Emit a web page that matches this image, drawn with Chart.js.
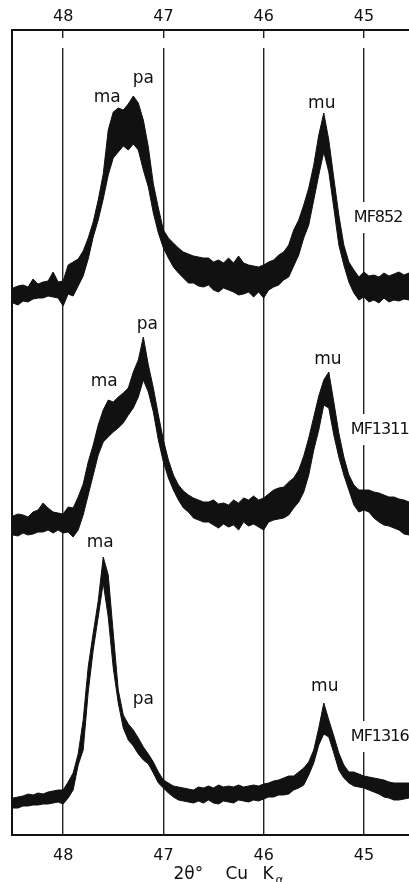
<!DOCTYPE html>
<html>
<head>
<meta charset="utf-8">
<title>XRD 2θ Cu Kα</title>
<script src="https://cdn.jsdelivr.net/npm/chart.js@4.4.1/dist/chart.umd.min.js"></script>
<style>
  html, body { margin: 0; padding: 0; background: #fff; }
  canvas { display: block; }
</style>
</head>
<body>
<canvas id="xrdChart" width="409" height="882"></canvas>
<script>
// 2-theta sampling positions (degrees, Cu K-alpha)
const twoTheta = [
    48.50, 48.45, 48.40, 48.35, 48.30, 48.25, 48.20, 48.15, 48.10, 48.05,
    48.00, 47.95, 47.90, 47.85, 47.80, 47.75, 47.70, 47.65, 47.60, 47.55,
    47.50, 47.45, 47.40, 47.35, 47.30, 47.25, 47.20, 47.15, 47.10, 47.05,
    47.00, 46.95, 46.90, 46.85, 46.80, 46.75, 46.70, 46.65, 46.60, 46.55,
    46.50, 46.45, 46.40, 46.35, 46.30, 46.25, 46.20, 46.15, 46.10, 46.05,
    46.00, 45.95, 45.90, 45.85, 45.80, 45.75, 45.70, 45.65, 45.60, 45.55,
    45.50, 45.45, 45.40, 45.35, 45.30, 45.25, 45.20, 45.15, 45.10, 45.05,
    45.00, 44.95, 44.90, 44.85, 44.80, 44.75, 44.70, 44.65, 44.60, 44.55
];

// Each scan is a noisy band: upper and lower edge of the recorder trace
const mf852Upper = [
    547, 549, 550, 548, 556, 551, 553, 554, 563, 553,
    554, 570, 573, 576, 584, 597, 613, 635, 661, 705,
    723, 727, 725, 731, 739, 732, 715, 688, 651, 627,
    605, 597, 592, 587, 583, 581, 579, 578, 577, 577,
    573, 575, 572, 577, 572, 579, 572, 570, 569, 568,
    570, 573, 575, 580, 583, 590, 605, 615, 630, 647,
    670, 700, 722, 695, 657, 620, 590, 573, 565, 558,
    563, 559, 560, 558, 562, 559, 561, 563, 560, 562
];
const mf852Lower = [
    532, 530, 534, 533, 536, 537, 537, 539, 538, 537,
    529, 541, 539, 549, 559, 576, 598, 615, 636, 660,
    677, 683, 689, 685, 691, 685, 665, 648, 622, 602,
    587, 577, 568, 562, 557, 552, 552, 549, 548, 550,
    545, 543, 547, 545, 543, 540, 541, 543, 538, 543,
    537, 545, 548, 550, 555, 558, 569, 580, 597, 610,
    635, 660, 683, 663, 627, 590, 570, 553, 542, 535,
    538, 533, 535, 532, 537, 533, 535, 534, 536, 535
];

const mf1311Upper = [
    319, 321, 320, 318, 323, 325, 332, 327, 323, 322,
    321, 328, 327, 338, 351, 373, 390, 410, 425, 435,
    433, 438, 442, 447, 463, 475, 498, 470, 447, 420,
    395, 375, 360, 350, 344, 340, 337, 335, 333, 333,
    335, 331, 332, 330, 335, 332, 337, 335, 339, 335,
    337, 341, 345, 347, 348, 353, 357, 365, 379, 397,
    418, 439, 455, 463, 433, 402, 378, 360, 350, 345,
    345, 345, 343, 342, 340, 338, 338, 336, 335, 333
];
const mf1311Lower = [
    300, 299, 302, 300, 301, 303, 303, 305, 302, 305,
    302, 303, 298, 305, 320, 340, 360, 380, 393, 398,
    403, 407, 412, 420, 427, 438, 455, 443, 423, 395,
    373, 357, 345, 335, 327, 323, 317, 315, 313, 313,
    310, 307, 311, 308, 310, 305, 313, 309, 311, 308,
    305, 313, 315, 316, 317, 320, 327, 333, 343, 360,
    385, 405, 430, 427, 400, 378, 360, 345, 330, 323,
    325, 323, 317, 313, 310, 309, 307, 305, 301, 300
];

const mf1316Upper = [
    37, 38, 39, 41, 40, 42, 41, 43, 44, 45,
    45, 53, 62, 81, 115, 168, 202, 234, 278, 260,
    202, 145, 120, 111, 105, 97, 88, 81, 73, 63,
    55, 52, 49, 48, 47, 46, 45, 48, 47, 49,
    47, 50, 48, 49, 48, 50, 48, 49, 50, 49,
    51, 52, 54, 55, 57, 59, 59, 63, 67, 73,
    85, 107, 132, 115, 99, 82, 70, 63, 63, 61,
    59, 58, 57, 56, 55, 53, 52, 52, 52, 52
];
const mf1316Lower = [
    27, 27, 29, 29, 30, 30, 31, 31, 32, 33,
    31, 37, 45, 70, 85, 143, 185, 218, 252, 218,
    167, 132, 107, 95, 89, 81, 75, 71, 62, 52,
    47, 42, 38, 35, 34, 33, 32, 34, 32, 35,
    32, 31, 34, 33, 32, 35, 34, 33, 35, 34,
    36, 38, 38, 40, 40, 41, 45, 47, 50, 60,
    72, 90, 101, 98, 82, 65, 57, 52, 49, 48,
    47, 45, 43, 41, 38, 37, 35, 35, 36, 37
];

const tickValues = [48, 47, 46, 45];

// phase labels (ma, pa, mu) and sample names, anchored in data units
const peakLabels = [
    { text: 'ma', x: 47.56, y: 737 },
    { text: 'pa', x: 47.20, y: 756 },
    { text: 'mu', x: 45.42, y: 731 },
    { text: 'ma', x: 47.59, y: 453 },
    { text: 'pa', x: 47.16, y: 510 },
    { text: 'mu', x: 45.36, y: 475 },
    { text: 'ma', x: 47.63, y: 292 },
    { text: 'pa', x: 47.20, y: 135 },
    { text: 'mu', x: 45.39, y: 148 }
];
const sampleLabels = [
    { text: 'MF852', x: 45.10, y: 617 },
    { text: 'MF1311', x: 45.13, y: 405 },
    { text: 'MF1316', x: 45.13, y: 98 }
];

const ink = '#111';
const sampleFont = '16px "DejaVu Sans"';

function toPoints(values) {
    return values.map((v, i) => ({ x: twoTheta[i], y: v }));
}

function band(name, upper, lower) {
    return [
        {
            label: name + ' upper',
            data: toPoints(upper),
            borderColor: ink,
            borderWidth: 1,
            pointRadius: 0,
            tension: 0,
            fill: false
        },
        {
            label: name + ' lower',
            data: toPoints(lower),
            borderColor: ink,
            borderWidth: 1,
            pointRadius: 0,
            tension: 0,
            backgroundColor: ink,
            fill: '-1'
        }
    ];
}

// white gaps in the grid: a strip under the top frame and behind the sample names
const gridGaps = {
    id: 'gridGaps',
    beforeDatasetsDraw(chart) {
        const { ctx, chartArea, scales } = chart;
        ctx.save();
        ctx.fillStyle = '#fff';
        ctx.fillRect(chartArea.left + 2, chartArea.top + 8, chartArea.width, 10);
        ctx.font = sampleFont;
        ctx.letterSpacing = '-1px';
        sampleLabels.forEach(l => {
            const w = ctx.measureText(l.text).width;
            const px = scales.x.getPixelForValue(l.x);
            const py = scales.y.getPixelForValue(l.y);
            ctx.fillRect(px - 3, py - 16, w + 6, 31);
        });
        ctx.restore();
    }
};

// left frame line, text labels and the axis title
const annotate = {
    id: 'annotate',
    afterDatasetsDraw(chart) {
        const { ctx, chartArea, scales } = chart;
        ctx.save();
        ctx.strokeStyle = ink;
        ctx.lineWidth = 2;
        ctx.beginPath();
        ctx.moveTo(chartArea.left, chartArea.top - 1);
        ctx.lineTo(chartArea.left, chartArea.bottom + 1);
        ctx.stroke();

        ctx.fillStyle = ink;
        ctx.textBaseline = 'middle';
        ctx.textAlign = 'center';
        ctx.font = '17px "DejaVu Sans"';
        peakLabels.forEach(l => {
            ctx.fillText(l.text, scales.x.getPixelForValue(l.x), scales.y.getPixelForValue(l.y));
        });
        ctx.textAlign = 'left';
        ctx.font = sampleFont;
        ctx.letterSpacing = '-1px';
        sampleLabels.forEach(l => {
            ctx.fillText(l.text, scales.x.getPixelForValue(l.x), scales.y.getPixelForValue(l.y));
        });
        ctx.letterSpacing = '0px';

        // 2θ° Cu Kα
        const cx = (chartArea.left + chartArea.right) / 2 + 18;
        ctx.textBaseline = 'alphabetic';
        ctx.font = '17px "DejaVu Sans"';
        ctx.fillText('2θ°', cx - 55, 879);
        ctx.fillText('Cu', cx - 3, 879);
        ctx.fillText('K', cx + 34, 879);
        ctx.font = '12px "DejaVu Sans"';
        ctx.fillText('α', cx + 47, 884);
        ctx.restore();
    }
};

const tickFont = { family: 'DejaVu Sans', size: 16 };

new Chart(document.getElementById('xrdChart'), {
    type: 'line',
    data: {
        datasets: [
            ...band('MF852', mf852Upper, mf852Lower),
            ...band('MF1311', mf1311Upper, mf1311Lower),
            ...band('MF1316', mf1316Upper, mf1316Lower)
        ]
    },
    options: {
        responsive: false,
        animation: false,
        devicePixelRatio: 1,
        layout: { padding: { left: 12, right: 0, top: 0, bottom: 0 } },
        plugins: {
            legend: { display: false },
            tooltip: { enabled: false }
        },
        scales: {
            x: {
                type: 'linear',
                position: 'bottom',
                reverse: true,
                min: 44.55,
                max: 48.51,
                afterBuildTicks: scale => { scale.ticks = tickValues.map(v => ({ value: v })); },
                afterFit: scale => { scale.height = 47; },
                ticks: { font: tickFont, color: ink, padding: 11, maxRotation: 0 },
                grid: { color: '#222', lineWidth: 1.4, drawTicks: false },
                border: { display: true, color: ink, width: 2 }
            },
            x2: {
                type: 'linear',
                position: 'top',
                reverse: true,
                min: 44.55,
                max: 48.51,
                afterBuildTicks: scale => { scale.ticks = tickValues.map(v => ({ value: v })); },
                afterFit: scale => { scale.height = 30; },
                ticks: { font: tickFont, color: ink, padding: 4, maxRotation: 0 },
                grid: { display: false, drawTicks: false },
                border: { display: true, color: ink, width: 2 }
            },
            y: {
                display: false,
                min: 0,
                max: 805
            }
        }
    },
    plugins: [gridGaps, annotate]
});
</script>
</body>
</html>
